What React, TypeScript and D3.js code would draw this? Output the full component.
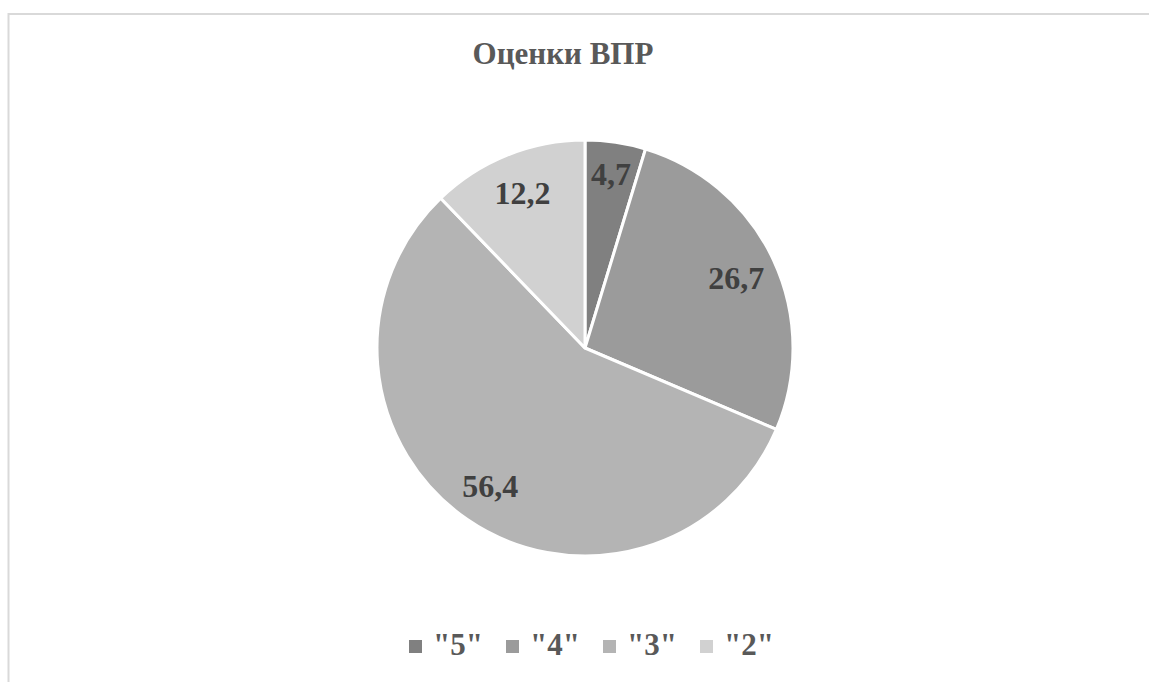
import React from 'react';
import * as d3 from 'd3';

// chart data
const categories = ['"5"', '"4"', '"3"', '"2"'];
const values = [4.7, 26.7, 56.4, 12.2];
const labels = ['4,7', '26,7', '56,4', '12,2'];
const colors = ['#808080', '#9b9b9b', '#b4b4b4', '#d1d1d1'];

const width = 1149;
const height = 682;
const cx = 585;
const cy = 348;
const radius = 208;
const font = '"Liberation Serif", "Times New Roman", serif';

const App = () => {
  const pie = d3.pie<number>().sort(null).value((d) => d);
  const arcs = pie(values);

  const arc = d3.arc<d3.PieArcDatum<number>>().innerRadius(0).outerRadius(radius);

  // labels sit inside the slices, small slice pushed a little outward
  const labelArc = (i: number) => {
    const r = values[i] < 8 ? 176 : 167;
    return d3.arc<d3.PieArcDatum<number>>().innerRadius(r).outerRadius(r);
  };

  const legendX = d3.scalePoint<string>().domain(categories).range([409, 700]);

  return (
    <div style={{ position: 'absolute', left: 0, top: 0 }}>
      <svg width={width} height={height} style={{ display: 'block' }}>
        <rect x={0} y={0} width={width} height={height} fill="#fff" />
        <rect x={8.5} y={14} width={1160} height={700} fill="none" stroke="#d9d9d9" strokeWidth={2} />

        <text x={563} y={64} textAnchor="middle" fontFamily={font} fontWeight="bold" fontSize={31} fill="#595959">
          Оценки ВПР
        </text>

        <g transform={`translate(${cx},${cy})`}>
          {arcs.map((a, i) => (
            <path key={i} d={arc(a) || ''} fill={colors[i]} stroke="#fff" strokeWidth={3} strokeLinejoin="round" />
          ))}
          {arcs.map((a, i) => {
            const [x, y] = labelArc(i).centroid(a);
            return (
              <text key={i} x={x} y={y} dy="0.35em" textAnchor="middle" fontFamily={font} fontWeight="bold" fontSize={32} fill="#404040">
                {labels[i]}
              </text>
            );
          })}
        </g>

        {categories.map((c, i) => {
          const x = legendX(c) || 0;
          return (
            <g key={c}>
              <rect x={x} y={640} width={13} height={13} fill={colors[i]} />
              <text x={x + 24} y={655} fontFamily={font} fontWeight="bold" fontSize={31} fill="#595959">
                {c}
              </text>
            </g>
          );
        })}
      </svg>
    </div>
  );
};

export default App;
